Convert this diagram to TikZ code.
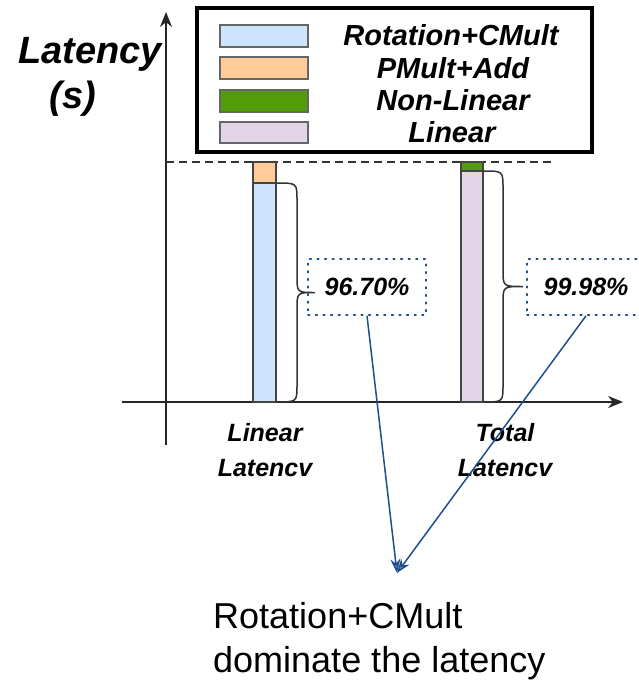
\documentclass[tikz,border=0pt]{standalone}
\usepackage{fontspec}
\setmainfont{Liberation Sans}
\usetikzlibrary{arrows.meta}

\definecolor{rotblue}{RGB}{204,228,252}
\definecolor{pmorange}{RGB}{255,204,153}
\definecolor{nlgreen}{RGB}{82,156,10}
\definecolor{linpurple}{RGB}{225,213,231}
\definecolor{swatchedge}{RGB}{102,102,102}
\definecolor{baredge}{RGB}{68,68,68}
\definecolor{callout}{RGB}{31,78,140}

\tikzset{
  axis/.style={line width=1.4pt, draw=black!85, -{Stealth[length=15pt,width=12pt]}},
  swatch/.style={draw=swatchedge, line width=1.6pt},
  barpart/.style={draw=baredge, line width=1.8pt},
  bracepath/.style={draw=black!80, line width=1.5pt},
  legendtext/.style={font=\fontsize{29}{32}\selectfont\bfseries\itshape, anchor=base, inner sep=0pt},
  ticklabel/.style={font=\fontsize{25}{35}\selectfont\bfseries\itshape, align=center, inner sep=0pt, anchor=base},
  pctbox/.style={draw=callout, line width=1.6pt, dash pattern=on 1.6pt off 6pt, line cap=round, minimum width=118pt, minimum height=56pt, inner sep=0pt, font=\fontsize{25}{30}\selectfont\bfseries\itshape},
  conn/.style={draw=callout, line width=1.5pt, -{Stealth[length=14pt,width=10pt,open,fill=callout!70]}},
}

\begin{document}
\begin{tikzpicture}[x=1pt, y=-1pt]
  \useasboundingbox (0,0) rectangle (638,680);

  % axes
  \draw[axis] (166,445) -- (166,12);
  \draw[axis] (122,402) -- (623,402);
  \node[font=\fontsize{38}{40}\selectfont\bfseries\itshape, anchor=base, inner sep=0pt] (ylab1) at (90,63) {Latency};
  \node[font=\fontsize{38}{40}\selectfont\bfseries\itshape, anchor=base, inner sep=0pt] (ylab2) at (73,108) {(s)};

  % legend
  \draw[line width=3.2pt, draw=black] (197,8) rectangle (592,152);
  \draw[swatch, fill=rotblue]   (220,25) rectangle (308,47);
  \draw[swatch, fill=pmorange]  (220,57) rectangle (308,79);
  \draw[swatch, fill=nlgreen]   (220,90) rectangle (308,112);
  \draw[swatch, fill=linpurple] (220,122) rectangle (308,143);
  \node[legendtext] (lg1) at (451,45) {Rotation+CMult};
  \node[legendtext] (lg2) at (453,78) {PMult+Add};
  \node[legendtext] (lg3) at (453,110) {Non-Linear};
  \node[legendtext] (lg4) at (452,142) {Linear};

  % reference level
  \draw[dashed, dash pattern=on 8pt off 5pt, line width=1.4pt, draw=black!80] (166,162) -- (553,162);

  % bar: linear latency
  \draw[barpart, fill=pmorange] (253,162) rectangle (276,183);
  \draw[barpart, fill=rotblue]  (253,183) rectangle (276,402);
  % bar: total latency
  \draw[barpart, fill=nlgreen]   (461,162) rectangle (483,171);
  \draw[barpart, fill=linpurple] (461,171) rectangle (483,402);

  % braces
  \draw[bracepath] (276,183) .. controls (297,183) .. (297,200) -- (297,276)
        .. controls (297,292.5) .. (315,292.5)
        .. controls (297,292.5) .. (297,309) -- (297,385)
        .. controls (297,402) .. (276,402);
  \draw[bracepath] (483,171) .. controls (503,171) .. (503,188) -- (503,270)
        .. controls (503,286.5) .. (523,286.5)
        .. controls (503,286.5) .. (503,303) -- (503,385)
        .. controls (503,402) .. (483,402);

  % percentages
  \node[pctbox] (p1) at (367,287) {96.70\%};
  \node[pctbox] (p2) at (586,287) {99.98\%};

  % category labels (base anchor sits on the last line)
  \node[ticklabel] (c1) at (265,476) {Linear\\Latencv};
  \node[ticklabel] (c2) at (505,476) {Total\\Latencv};

  % callout
  \coordinate (tip) at (397,573);
  \draw[conn] (p1.south) -- (tip);
  \draw[conn] (p2.south) -- (tip);
  \node[font=\fontsize{36}{44}\selectfont, align=left, anchor=base west, inner sep=0pt] (note) at (213,672)
        {Rotation+CMult\\dominate the latency};
\end{tikzpicture}
\end{document}
